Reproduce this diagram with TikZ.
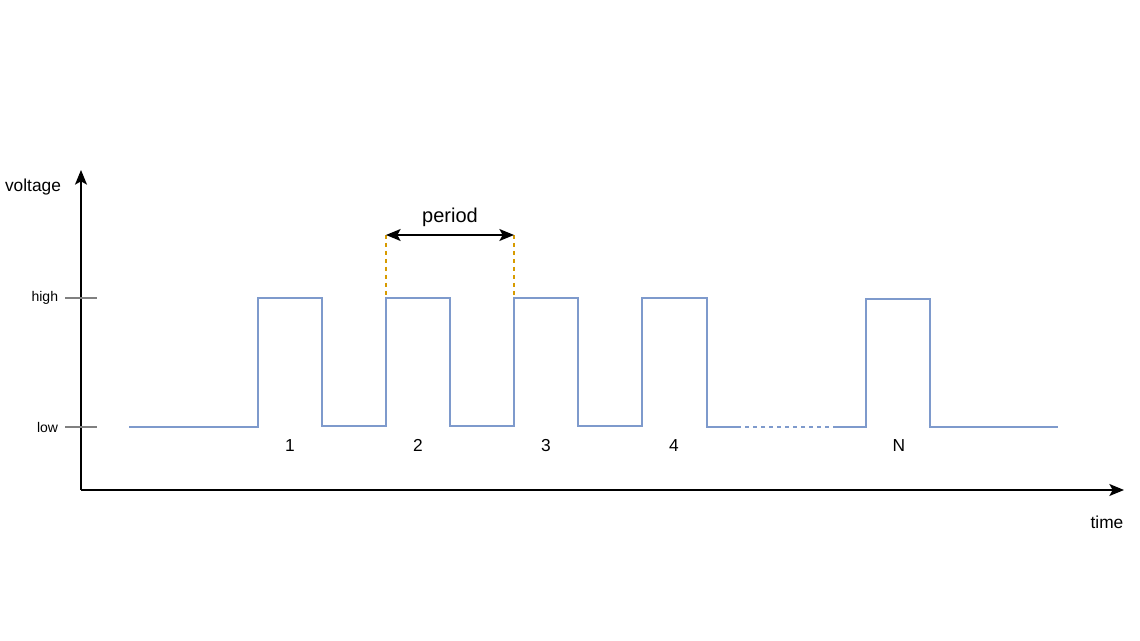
\documentclass[tikz,border=0pt]{standalone}
\usepackage{fontspec}
\setmainfont{Liberation Sans}
\usetikzlibrary{positioning,calc,arrows.meta}
\definecolor{sigblue}{HTML}{7E9ACC}
\definecolor{tickgray}{HTML}{808080}
\definecolor{perorange}{HTML}{D79B00}
\begin{document}
\begin{tikzpicture}[x=0.75pt, y=-0.75pt,
  axis/.style = {line width=1.1pt, -{Stealth[length=11pt,width=9pt,inset=2.5pt]}},
  tick/.style = {tickgray, line width=0.9pt},
  sig/.style  = {sigblue, line width=1.1pt},
  guide/.style = {perorange, dashed, line width=0.8pt},
  lbl/.style = {inner sep=0pt, anchor=base, font=\fontsize{13}{15}\selectfont},
  small/.style = {inner sep=1pt, font=\fontsize{10.5}{12}\selectfont}
  ]
  \useasboundingbox (0,0) rectangle (1140,641);
  % axes
  \coordinate (origin) at (81,490);
  \coordinate (ytop) at (81,170);
  \coordinate (xend) at (1124,490);
  \draw[axis] (origin) -- (ytop);
  \draw[axis] (origin) -- (xend);
  \node (voltage) [lbl] at (33,192) {voltage};
  \node (time) [lbl] at (1107,529) {time};
  % levels
  \coordinate (hi-a) at (65,298);  \coordinate (hi-b) at (97,298);
  \coordinate (lo-a) at (65,427);  \coordinate (lo-b) at (97,427);
  \draw[tick] (hi-a) -- (hi-b);
  \draw[tick] (lo-a) -- (lo-b);
  \node (high) [small, left=4pt of hi-a] {high};
  \node (low)  [small, left=4pt of lo-a] {low};
  % signal
  \draw[sig] (129,427) -- (258,427) -- (258,298) -- (322,298) -- (322,426)
    -- (386,426) -- (386,298) -- (450,298) -- (450,426) -- (514,426)
    -- (514,298) -- (578,298) -- (578,426) -- (642,426) -- (642,298)
    -- (707,298) -- (707,427) -- (737,427);
  \draw[sig, dashed] (737,427) -- (835,427);
  \draw[sig] (835,427) -- (866,427) -- (866,299) -- (930,299) -- (930,427)
    -- (1058,427);
  % pulse numbers
  \foreach \x/\n in {290/1, 418/2, 546/3, 674/4, 899/N}
    \node (p\n) [lbl] at (\x,452) {\n};
  % period
  \coordinate (per-a) at (386,235);
  \coordinate (per-b) at (514,235);
  \draw[guide] (per-a) -- (386,297);
  \draw[guide] (per-b) -- (514,297);
  \draw[line width=1.1pt, {Stealth[length=11pt,width=9pt,inset=2.5pt]}-{Stealth[length=11pt,width=9pt,inset=2.5pt]}] (per-a) -- (per-b);
  \node (period) [lbl, font=\fontsize{15}{17}\selectfont] at (450,223) {period};
\end{tikzpicture}
\end{document}
